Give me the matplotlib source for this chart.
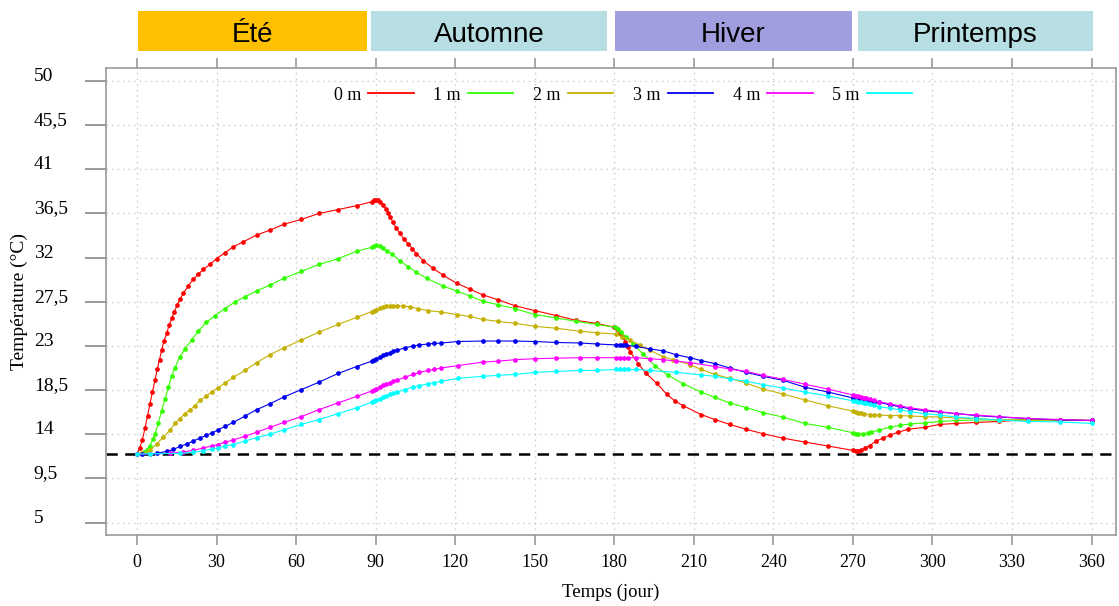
import matplotlib
matplotlib.use('Agg')
import matplotlib.pyplot as plt
from matplotlib.lines import Line2D
from matplotlib.patches import Rectangle
import matplotlib.transforms as mtransforms

# Saisons (bandeau au-dessus du graphique)
seasons = ['Été', 'Automne', 'Hiver', 'Printemps']
season_start = [0.4, 88.3, 180.2, 271.8]
season_end = [86.7, 177.2, 269.5, 360.7]
season_colors = ['#ffc000', '#b7dee2', '#a09ede', '#b7dee2']

T_init = 12.0

# 0 m
days_0m = [0, 1.0, 2.0, 3.0, 4.0, 4.9, 5.8, 6.8, 7.6, 8.5, 9.3, 10.2, 11.2, 12.1, 13.1,
           14.1, 15.2, 16.3, 17.5, 19.3, 21.2, 23.1, 25, 27.5, 30, 33.2, 36.3, 40,
           45.1, 50.1, 55.4, 62, 68.6, 75.9, 82.8, 88.5, 89.5, 90.3, 91, 91.8, 92.8,
           93.8, 94.7, 95.6, 96.5, 97.8, 99.1, 100.7, 102.3, 103.9, 105.4, 107.9,
           111.7, 115.5, 120.5, 125.5, 130.5, 136.2, 142.5, 150, 158.2, 165.7, 173.3,
           180, 181, 182, 183.2, 184.2, 185, 186, 189, 192, 196, 199.7, 202.8, 206,
           212.8, 217.9, 223.5, 229.8, 236.1, 243.6, 251.8, 260.6, 270, 271, 272, 273,
           274.5, 276.3, 278.8, 281.3, 283.8, 287, 290.7, 297, 302.7, 309, 316.5, 325,
           336, 348, 360]
temp_0m = [12.0, 12.6, 13.4, 14.6, 15.9, 17.1, 18.3, 19.5, 20.6, 21.6, 22.6, 23.5, 24.3,
           25.1, 25.8, 26.5, 27.2, 27.8, 28.4, 29.1, 29.8, 30.3, 30.8, 31.3, 31.9, 32.5,
           33.1, 33.6, 34.3, 34.8, 35.4, 35.9, 36.5, 36.9, 37.3, 37.7, 37.85, 37.9, 37.85,
           37.7, 37.4, 37.0, 36.6, 36.1, 35.6, 35.0, 34.5, 33.9, 33.4, 32.9, 32.4, 31.7,
           30.9, 30.2, 29.4, 28.8, 28.2, 27.7, 27.1, 26.6, 26.1, 25.6, 25.3, 24.9, 24.7,
           24.3, 23.9, 23.4, 22.9, 22.4, 21.2, 20.2, 19.2, 18.1, 17.4, 16.9, 16.0, 15.5,
           15.0, 14.5, 14.05, 13.6, 13.2, 12.8, 12.35, 12.3, 12.3, 12.35, 12.6, 12.85,
           13.3, 13.6, 13.9, 14.2, 14.5, 14.7, 15.0, 15.1, 15.2, 15.3, 15.5, 15.5, 15.4]

# 1 m
days_1m = [0, 2.5, 3.6, 4.9, 6.0, 6.8, 8.0, 9.3, 10.6, 11.8, 13.1, 14.3, 16.2, 18.1, 20.6,
           23.1, 26.2, 29.4, 33.2, 37, 40.7, 45.1, 50.1, 55.4, 62, 68.6, 75.9, 82.8, 88.5,
           89.5, 90.3, 91.5, 92.8, 94.4, 96, 99.1, 102.3, 105.4, 109.2, 115.5, 120.5,
           125.5, 130.5, 136.2, 142.5, 150, 158.2, 165.7, 173.3, 180.2, 181.5, 182.7,
           184.4, 187, 190.8, 195.2, 200.3, 206, 212.8, 217.9, 223.5, 229.8, 236.1, 243.6,
           251.8, 260.6, 270, 271, 272, 273.8, 275.5, 277, 280, 283.8, 287.6, 291.4, 297,
           302.7, 309, 316.5, 325, 336, 348, 360]
temp_1m = [12.0, 12.2, 12.35, 12.85, 13.5, 14.0, 15.1, 16.4, 17.6, 18.8, 19.9, 20.8, 21.9,
           22.7, 23.6, 24.5, 25.4, 26.1, 26.8, 27.5, 28.0, 28.6, 29.2, 29.9, 30.6, 31.3,
           31.9, 32.65, 33.05, 33.2, 33.25, 33.2, 32.95, 32.7, 32.4, 31.7, 31.05, 30.5,
           29.9, 29.1, 28.6, 28.1, 27.55, 27.2, 26.8, 26.2, 25.85, 25.5, 25.2, 24.9, 24.7,
           24.4, 23.9, 23.2, 22.2, 21.0, 20.0, 19.15, 18.3, 17.75, 17.2, 16.7, 16.2,
           15.75, 15.1, 14.7, 14.15, 14.05, 14.05, 14.05, 14.1, 14.2, 14.45, 14.7, 14.9,
           15.05, 15.15, 15.3, 15.4, 15.45, 15.45, 15.45, 15.45, 15.4]

# 2 m
days_2m = [0, 2, 4.9, 7.4, 9.9, 12.4, 14.3, 16.2, 18.1, 20, 21.9, 23.7, 26.2, 28.1, 30.6,
           33.2, 36.3, 40.7, 45.1, 50.1, 55.4, 62, 68.6, 75.9, 82.8, 88.5, 89.5, 90.3,
           91.5, 92.8, 94, 95.3, 96.6, 97.9, 100.4, 102.9, 106, 109.8, 114.8, 120.5,
           125.5, 130.5, 136.2, 142.7, 150, 158.2, 167, 173.3, 180.8, 183, 185.8, 189.6,
           193.4, 198.4, 202.2, 208.5, 212.8, 217.9, 223.5, 229.8, 236.1, 243.6, 251.8,
           260.6, 270, 271, 272, 273, 274, 276.3, 278, 280, 283.8, 287.6, 291.4, 297,
           302.7, 309, 316.5, 325, 336, 348, 360]
temp_2m = [12.0, 12.05, 12.35, 13.0, 13.7, 14.4, 15.1, 15.6, 16.1, 16.5, 16.9, 17.45, 17.9,
           18.3, 18.75, 19.2, 19.8, 20.5, 21.3, 22.1, 22.8, 23.6, 24.4, 25.2, 25.9, 26.5,
           26.6, 26.7, 26.85, 27.0, 27.05, 27.1, 27.1, 27.1, 27.05, 27.0, 26.8, 26.6,
           26.45, 26.2, 26.0, 25.7, 25.5, 25.3, 25.0, 24.8, 24.5, 24.35, 24.2, 23.9, 23.6,
           23.1, 22.55, 21.9, 21.6, 21.1, 20.6, 20.1, 19.7, 19.2, 18.6, 18.1, 17.5, 16.9,
           16.35, 16.3, 16.2, 16.15, 16.1, 16.0, 15.95, 15.95, 15.9, 15.9, 15.85, 15.8,
           15.75, 15.65, 15.6, 15.45, 15.45, 15.4, 15.4]

# 3 m
days_3m = [0, 2, 7.4, 11.2, 13.7, 16.2, 18.7, 21.2, 23.7, 26.2, 28.1, 30.6, 33.2, 36.3,
           40.7, 45.1, 50.1, 55.4, 62, 68.6, 75.9, 82.8, 88.5, 89.5, 90.3, 91.5, 92.8,
           94, 95.3, 96.6, 97.9, 101, 104.1, 106.5, 109.8, 112, 114.8, 121.1, 130.5,
           136.2, 142.7, 150, 158.2, 167, 173.3, 180.8, 182, 183.2, 184.5, 188.3, 193.4,
           198.4, 203.4, 208.5, 212.8, 217.9, 223.5, 229.8, 236.1, 243.6, 251.8, 260.6,
           270, 271, 272, 273, 274, 275, 276.3, 278, 280, 283.8, 287.6, 291.4, 297, 302.7,
           309, 316.5, 325, 336, 348, 360]
temp_3m = [12.0, 12.0, 12.05, 12.25, 12.45, 12.75, 13.0, 13.3, 13.6, 13.9, 14.1, 14.45,
           14.8, 15.2, 15.85, 16.5, 17.1, 17.8, 18.55, 19.3, 20.2, 20.9, 21.45, 21.6,
           21.7, 21.85, 22.05, 22.2, 22.3, 22.45, 22.55, 22.8, 23.0, 23.1, 23.2, 23.25,
           23.3, 23.45, 23.5, 23.5, 23.5, 23.45, 23.35, 23.3, 23.2, 23.1, 23.1, 23.1,
           23.05, 22.95, 22.7, 22.5, 22.1, 21.8, 21.5, 21.2, 20.75, 20.3, 19.9, 19.5,
           18.8, 18.3, 17.7, 17.65, 17.6, 17.5, 17.45, 17.4, 17.35, 17.3, 17.25, 17.0,
           16.8, 16.6, 16.4, 16.25, 16.1, 15.9, 15.75, 15.6, 15.45, 15.4]

# 4 m
days_4m = [0, 4.9, 12.4, 17.5, 21.2, 25, 28.1, 30.6, 33.2, 36.3, 40.7, 45.1, 50.1, 55.4,
           62, 68.6, 75.9, 82.8, 88.5, 89.5, 90.3, 91.5, 92.8, 94, 95.3, 96.6, 97.9, 101,
           104.1, 106.5, 109.8, 112, 114.8, 121.1, 130.5, 136.2, 142.7, 150, 158.2, 167,
           173.3, 180.8, 182, 183.5, 185, 188.3, 193.4, 198.4, 203.4, 208.5, 217.9, 223.5,
           229.8, 236.1, 243.6, 251.8, 260.6, 270, 271, 272, 273, 274, 275, 276.3, 278,
           280, 283.8, 287.6, 291.4, 297, 302.7, 309, 316.5, 325, 336, 348, 360]
temp_4m = [12.0, 12.0, 12.05, 12.2, 12.35, 12.6, 12.8, 12.95, 13.2, 13.4, 13.8, 14.2,
           14.7, 15.2, 15.8, 16.5, 17.2, 17.85, 18.4, 18.5, 18.6, 18.8, 19.0, 19.1,
           19.25, 19.4, 19.5, 19.8, 20.1, 20.3, 20.5, 20.6, 20.75, 21.0, 21.35, 21.45,
           21.6, 21.7, 21.75, 21.8, 21.8, 21.8, 21.8, 21.8, 21.8, 21.8, 21.7, 21.6,
           21.45, 21.3, 20.9, 20.65, 20.4, 20.0, 19.6, 19.1, 18.6, 18.0, 17.9, 17.85,
           17.8, 17.7, 17.65, 17.55, 17.45, 17.3, 17.1, 16.9, 16.7, 16.5, 16.3, 16.1,
           15.95, 15.8, 15.6, 15.5, 15.4]

# 5 m
days_5m = [0, 4.9, 16.2, 21.2, 25, 28.1, 30.6, 33.2, 36.3, 40.7, 45.1, 50.1, 55.4, 62,
           68.6, 75.9, 82.8, 88.5, 89.5, 90.3, 91.5, 92.8, 94, 95.3, 96.6, 97.9, 101,
           104.1, 106.5, 109.8, 112, 114.8, 121.1, 130.5, 136.2, 142.7, 150, 158.2, 167,
           173.3, 180.8, 182, 183.5, 185, 188.3, 193.4, 203.4, 212.8, 217.9, 223.5, 229.8,
           236.1, 243.6, 251.8, 260.6, 270, 271, 272, 273, 274, 275, 276.3, 278, 280,
           283.8, 287.6, 291.4, 297, 302.7, 309, 316.5, 325, 336, 348, 360]
temp_5m = [12.0, 12.0, 12.05, 12.15, 12.3, 12.5, 12.6, 12.8, 12.95, 13.3, 13.65, 14.0,
           14.45, 15.0, 15.5, 16.1, 16.7, 17.25, 17.35, 17.45, 17.6, 17.8, 17.9, 18.05,
           18.2, 18.3, 18.55, 18.8, 18.95, 19.15, 19.25, 19.4, 19.7, 19.9, 20.0, 20.1,
           20.3, 20.4, 20.5, 20.5, 20.6, 20.6, 20.6, 20.6, 20.6, 20.5, 20.3, 20.05, 19.9,
           19.65, 19.4, 19.05, 18.7, 18.3, 17.9, 17.4, 17.35, 17.3, 17.25, 17.2, 17.15,
           17.05, 16.95, 16.8, 16.65, 16.5, 16.3, 16.1, 15.95, 15.75, 15.6, 15.45, 15.3,
           15.25, 15.1]

series_labels = ['0 m', '1 m', '2 m', '3 m', '4 m', '5 m']
series_colors = ['#ff0000', '#33ff00', '#c4b000', '#0000ee', '#ff00ff', '#00ffff']
series_days = [days_0m, days_1m, days_2m, days_3m, days_4m, days_5m]
series_temps = [temp_0m, temp_1m, temp_2m, temp_3m, temp_4m, temp_5m]

yticks = [5, 9.5, 14, 18.5, 23, 27.5, 32, 36.5, 41, 45.5, 50]
ytick_labels = ['5', '9,5', '14', '18,5', '23', '27,5', '32', '36,5', '41', '45,5', '50']
xticks = list(range(0, 361, 30))

SERIF = 'Liberation Serif'
SANS = 'Liberation Sans'

fig = plt.figure(figsize=(11.19, 6.06), dpi=100)
ax = fig.add_axes([0.0947, 0.1172, 0.9026, 0.7706])

for d, t, c, lab in zip(series_days, series_temps, series_colors, series_labels):
    ax.plot(d, t, color=c, lw=0.8, marker='o', ms=3.4, mew=0, label=lab, zorder=3)

ax.axhline(T_init, color='black', lw=1.8, ls=(0, (4.5, 3)), zorder=2)

ax.set_xlim(-11.7, 369.2)
ax.set_ylim(3.73, 51.33)
ax.set_xticks(xticks)
ax.set_xticklabels([str(x) for x in xticks], fontfamily=SERIF, fontsize=13)
ax.set_yticks(yticks)
ax.set_yticklabels(ytick_labels, fontfamily=SERIF, fontsize=14)

ax.grid(True, color='#c8c8c8', ls=(0, (1, 3)), lw=1)
for sp in ax.spines.values():
    sp.set_color('#999999')
    sp.set_linewidth(1.2)

ax.tick_params(axis='x', top=True, bottom=True, direction='out', length=7,
               color='#999999', width=1.2, pad=7)
ax.tick_params(axis='y', left=True, right=False, direction='out', length=15,
               color='#888888', width=1.2, pad=37)
for lab in ax.get_yticklabels():
    lab.set_horizontalalignment('left')
    lab.set_verticalalignment('baseline')

ax.set_xlabel('Temps (jour)', fontfamily=SERIF, fontsize=13.5)
ax.xaxis.set_label_coords(0.5, -0.105)
ax.set_ylabel('Température (°C)', fontfamily=SERIF, fontsize=14)
ax.yaxis.set_label_coords(-0.077, 0.5)

# bandeau des saisons
trans = mtransforms.blended_transform_factory(ax.transData, ax.transAxes)
for name, s, e, col in zip(seasons, season_start, season_end, season_colors):
    ax.add_patch(Rectangle((s, 1.036), e - s, 0.086, transform=trans,
                           facecolor=col, edgecolor='none', clip_on=False))
    ax.text((s + e) / 2, 1.0557, name, transform=trans, ha='center', va='baseline',
            fontfamily=SANS, fontsize=20)

handles = [Line2D([], [], color=c, lw=1.3) for c in series_colors]
ax.legend(handles, series_labels, loc='center', bbox_to_anchor=(0.512, 0.942),
          ncol=6, frameon=False, markerfirst=False, handlelength=2.5,
          handletextpad=0.4, columnspacing=1.1, prop={'family': SERIF, 'size': 13})

fig.savefig('out.png', dpi=100)
